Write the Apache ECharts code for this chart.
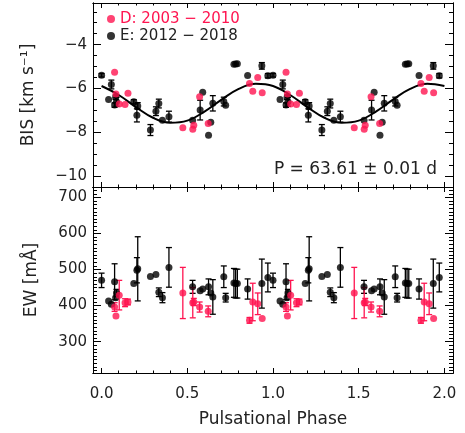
<!DOCTYPE html>
<html><head><meta charset="utf-8">
<script src="https://cdn.jsdelivr.net/npm/echarts@6/dist/echarts.min.js"></script>
<style>html,body{margin:0;padding:0;background:#fff}#c{width:465px;height:433px}</style>
</head><body><div id="c"></div>
<script>
// ---- data (phase in [0,1); each point is also drawn at phase+1) ----
const phaseE  = [0.000,0.041,0.057,0.076,0.082,0.087,0.188,0.206,0.211,0.285,0.317,0.334,0.355,0.393,0.531,0.575,0.590,0.624,0.637,0.649,0.713,0.724,0.772,0.782,0.792,0.852,0.935,0.970];
const bisE    = [-5.40,-6.50,-5.82,-6.76,-6.40,-6.61,-6.61,-7.23,-6.80,-7.90,-7.04,-6.69,-7.45,-7.29,-7.45,-6.99,-6.17,-8.14,-7.54,-6.68,-6.60,-6.77,-4.90,-4.89,-4.87,-5.41,-4.97,-5.42];
const bisErrE = [0.08,0,0.2,0.1,0.1,0.2,0.1,0.3,0.15,0.25,0.2,0.2,0,0.25,0,0.45,0,0,0,0.35,0.2,0,0,0,0,0,0.15,0.1];
const ewE     = [470,413,404,466,422,435,461,498,502,481,486,437,422,506,452,441,446,452,435,424,480,422,463,461,461,446,461,478];
const ewErrE  = [20,0,0,50,0,10,0,35,89,0,0,12,14,55,18,0,0,22,0,48,30,12,40,40,40,28,68,40];

const phaseD  = [0.076,0.084,0.103,0.137,0.154,0.474,0.532,0.538,0.572,0.622,0.863,0.882,0.911,0.937];
const bisD    = [-5.26,-6.26,-6.71,-6.73,-6.22,-7.80,-7.86,-7.68,-6.38,-7.60,-5.77,-6.13,-5.50,-6.20];
const ewD     = [396,371,429,408,410,435,408,410,396,384,359,410,405,364];
const ewErrD  = [12,0,41,11,8,71,42,10,14,15,8,52,30,0];

const fitPhase = [0,0.1,0.2,0.3,0.4,0.5,0.6,0.7,0.8,0.9,1.0,1.1,1.2,1.3,1.4,1.5,1.6,1.7,1.8,1.9,2.0];
const fitBis   = [-5.89,-6.30,-6.85,-7.34,-7.57,-7.47,-7.06,-6.51,-6.02,-5.79,-5.89,-6.30,-6.85,-7.34,-7.57,-7.47,-7.06,-6.51,-6.02,-5.79,-5.89];

const phaseTicks = [0, 0.5, 1, 1.5, 2];
const bisTicks   = [-10, -8, -6, -4];
const ewTicks    = [300, 400, 500, 600, 700];
const nameD = 'D: 2003 \u2212 2010';
const nameE = 'E: 2012 \u2212 2018';
const periodText = 'P = 63.61 \u00b1 0.01 d';

// ---- helpers ----
const RED = '#ff1450', BLK = '#000000', TXT = '#222222';
const FONT = 'DejaVu Sans';
function steps(a, b, s) { const out = []; for (let v = a; v <= b + 1e-9; v += s) out.push(Math.round(v * 1000) / 1000); return out; }
function minorOf(all, majors) { return all.filter(v => !majors.some(m => Math.abs(m - v) < 1e-6)); }
const xMinor   = minorOf(steps(0, 2, 0.1), phaseTicks);
const bisMinor = minorOf(steps(-10.5, -2.5, 0.5), bisTicks);
const ewMinor  = minorOf(steps(220, 720, 10), ewTicks);

function doubled(ph, vals) { const d = []; ph.forEach((p, i) => { d.push([p, vals[i]]); d.push([p + 1, vals[i]]); }); return d; }
function doubledErr(ph, vals, errs) { const d = []; ph.forEach((p, i) => { if (errs[i] > 0) { d.push([p, vals[i] - errs[i], vals[i] + errs[i]]); d.push([p + 1, vals[i] - errs[i], vals[i] + errs[i]]); } }); return d; }

function errRender(color) {
  return function (params, api) {
    const x = api.value(0), lo = api.value(1), hi = api.value(2);
    const p1 = api.coord([x, lo]), p2 = api.coord([x, hi]);
    const w = 3, style = { stroke: color, lineWidth: 1.3 };
    return { type: 'group', children: [
      { type: 'line', shape: { x1: p1[0], y1: p1[1], x2: p2[0], y2: p2[1] }, style },
      { type: 'line', shape: { x1: p1[0] - w, y1: p1[1], x2: p1[0] + w, y2: p1[1] }, style },
      { type: 'line', shape: { x1: p2[0] - w, y1: p2[1], x2: p2[0] + w, y2: p2[1] }, style }
    ] };
  };
}

const lineStyle = { color: '#000', width: 1 };
function xAxesFor(g, withLabels) {
  const base = { type: 'value', gridIndex: g, min: -0.05, max: 2.05, splitLine: { show: false },
                 axisLine: { show: true, onZero: false, lineStyle } };
  const mk = (pos, vals, len, labels) => Object.assign({}, base, {
    position: pos,
    axisTick: { show: true, inside: true, length: len, customValues: vals, lineStyle },
    axisLabel: labels ? { show: true, customValues: phaseTicks, formatter: v => v.toFixed(1), margin: 14,
                          fontFamily: FONT, fontSize: 15, color: TXT }
                      : { show: false }
  });
  const arr = [mk('bottom', phaseTicks, 5, withLabels), mk('bottom', xMinor, 2.5, false),
               mk('top', phaseTicks, 5, false), mk('top', xMinor, 2.5, false)];
  if (withLabels) Object.assign(arr[0], { name: 'Pulsational Phase', nameLocation: 'middle', nameGap: 38,
      nameTextStyle: { fontFamily: FONT, fontSize: 17, color: TXT } });
  return arr;
}
function yAxesFor(g, min, max, majors, minors, name, fmt, nameGap) {
  const base = { type: 'value', gridIndex: g, min, max, splitLine: { show: false },
                 axisLine: { show: true, onZero: false, lineStyle } };
  const mk = (pos, vals, len, labels) => Object.assign({}, base, {
    position: pos,
    axisTick: { show: true, inside: true, length: len, customValues: vals, lineStyle },
    axisLabel: labels ? { show: true, customValues: majors, formatter: fmt, margin: 6,
                          fontFamily: FONT, fontSize: 15, color: TXT }
                      : { show: false }
  });
  const arr = [mk('left', majors, 8, true), mk('left', minors, 4, false),
               mk('right', majors, 8, false), mk('right', minors, 4, false)];
  Object.assign(arr[0], { name, nameLocation: 'middle', nameGap, nameRotate: 90,
      nameTextStyle: { fontFamily: FONT, fontSize: 17, color: TXT } });
  return arr;
}

const xAxis = [...xAxesFor(0, false), ...xAxesFor(1, true)];
const yAxis = [
  ...yAxesFor(0, -10.5, -2.1, bisTicks, bisMinor, 'BIS [km s\u207b\u00b9]', v => (v < 0 ? '\u2212' + (-v) : '' + v), 56),
  ...yAxesFor(1, 213, 729, ewTicks, ewMinor, 'EW [m\u00c5]', v => '' + v, 53)
];

const series = [
  { type: 'line', name: 'fit', xAxisIndex: 0, yAxisIndex: 0, data: fitPhase.map((p, i) => [p, fitBis[i]]),
    smooth: 0.4, showSymbol: false, lineStyle: { color: '#000', width: 2 }, silent: true, z: 2 },
  { type: 'custom', name: 'errE1', xAxisIndex: 0, yAxisIndex: 0, renderItem: errRender(BLK),
    data: doubledErr(phaseE, bisE, bisErrE), encode: { x: 0, y: [1, 2] }, z: 3 },
  { type: 'custom', name: 'errE2', xAxisIndex: 4, yAxisIndex: 4, renderItem: errRender(BLK),
    data: doubledErr(phaseE, ewE, ewErrE), encode: { x: 0, y: [1, 2] }, z: 3 },
  { type: 'custom', name: 'errD2', xAxisIndex: 4, yAxisIndex: 4, renderItem: errRender(RED),
    data: doubledErr(phaseD, ewD, ewErrD), encode: { x: 0, y: [1, 2] }, z: 3 },
  { type: 'scatter', name: nameE, xAxisIndex: 0, yAxisIndex: 0, data: doubled(phaseE, bisE),
    symbolSize: 7, itemStyle: { color: BLK }, z: 4 },
  { type: 'scatter', name: nameE, xAxisIndex: 4, yAxisIndex: 4, data: doubled(phaseE, ewE),
    symbolSize: 7, itemStyle: { color: BLK }, z: 4 },
  { type: 'scatter', name: nameD, xAxisIndex: 0, yAxisIndex: 0, data: doubled(phaseD, bisD),
    symbolSize: 7, itemStyle: { color: RED }, z: 5 },
  { type: 'scatter', name: nameD, xAxisIndex: 4, yAxisIndex: 4, data: doubled(phaseD, ewD),
    symbolSize: 7, itemStyle: { color: RED }, z: 5 }
];

const chart = echarts.init(document.getElementById('c'), null, { renderer: 'canvas' });
chart.setOption({
  animation: false,
  backgroundColor: '#fff',
  grid: [
    { left: 93, top: 3, width: 360, height: 184, containLabel: false },
    { left: 93, top: 187, width: 360, height: 186, containLabel: false }
  ],
  xAxis, yAxis, series,
  legend: {
    orient: 'vertical', left: 107, top: 11, padding: 0, itemGap: 1, itemWidth: 8, itemHeight: 8,
    icon: 'circle', selectedMode: false,
    textStyle: { fontFamily: FONT, fontSize: 15, lineHeight: 16 },
    data: [ { name: nameD, textStyle: { color: RED } }, { name: nameE, textStyle: { color: TXT } } ]
  },
  graphic: [
    { type: 'text', left: 'auto', right: 465 - 437, top: 161,
      style: { text: periodText, fontFamily: FONT, fontSize: 17, fill: TXT } }
  ]
});
</script>
</body></html>
